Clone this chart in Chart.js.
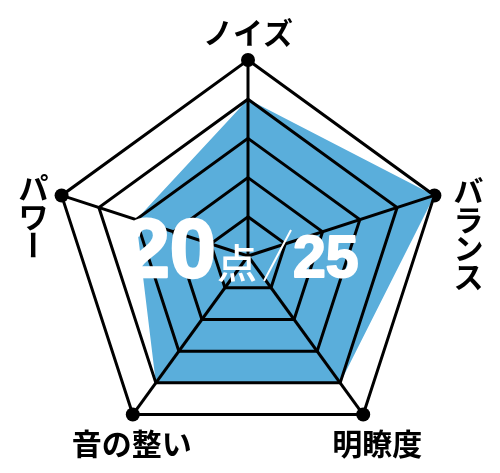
<!DOCTYPE html>
<html lang="ja">
<head>
<meta charset="utf-8">
<script src="https://cdn.jsdelivr.net/npm/chart.js@4.4.1/dist/chart.umd.min.js"></script>
<style>
  html, body { margin: 0; padding: 0; background: #fff; }
  .chart-wrap { position: relative; width: 500px; height: 473px; }
</style>
</head>
<body>
<div class="chart-wrap"><canvas id="radar"></canvas></div>
<script>
// axes clockwise from the top
const labels = ["ノイズ", "バランス", "明瞭度", "音の整い", "パワー"];
const verticalLabels = [false, true, false, false, true];
const scores = [4, 5, 4, 4, 3];
const maxScores = [5, 5, 5, 5, 5];
const scoreTotal = "20";
const scoreUnit = "点";
const scoreMax = "25";

// label centre relative to its outer vertex
const labelOffsets = [[0, -27], [34, 38], [14, 29], [-1, 29], [-28, 21]];
const LABEL_FONT = "bold 30px 'Noto Sans CJK JP', sans-serif";
const CELL = 28.5;
const NUM_FONT = "'Liberation Sans Narrow', 'Liberation Sans', sans-serif";

const axisLabels = {
  id: "axisLabels",
  afterDraw(chart) {
    const r = chart.scales.r;
    const ctx = chart.ctx;
    ctx.save();
    ctx.fillStyle = "#000";
    ctx.font = LABEL_FONT;
    ctx.textAlign = "center";
    ctx.textBaseline = "middle";
    labels.forEach((text, i) => {
      const p = r.getPointPositionForValue(i, r.max);
      const x = p.x + labelOffsets[i][0];
      const y = p.y + labelOffsets[i][1];
      if (!verticalLabels[i]) {
        ctx.fillText(text, x, y);
        return;
      }
      const chars = [...text];
      const top = y - (chars.length - 1) * CELL / 2;
      chars.forEach((ch, j) => {
        const cy = top + j * CELL;
        if (ch === "ー") {
          ctx.save();
          ctx.translate(x, cy);
          ctx.rotate(Math.PI / 2);
          ctx.fillText(ch, 0, 0);
          ctx.restore();
        } else {
          ctx.fillText(ch, x, cy);
        }
      });
    });
    ctx.restore();
  },
};

// big white score in the middle
const centerScore = {
  id: "centerScore",
  afterDraw(chart) {
    const r = chart.scales.r;
    const cx = r.xCenter;
    const cy = r.yCenter;
    const ctx = chart.ctx;
    ctx.save();
    ctx.fillStyle = "#fff";
    ctx.strokeStyle = "#fff";
    ctx.lineJoin = "round";
    ctx.textBaseline = "alphabetic";

    ctx.font = "bold 83px " + NUM_FONT;
    ctx.textAlign = "right";
    ctx.lineWidth = 2.5;
    ctx.fillText(scoreTotal, cx - 32, cy + 21);
    ctx.strokeText(scoreTotal, cx - 32, cy + 21);

    ctx.font = "500 40px 'Noto Sans CJK JP', sans-serif";
    ctx.textAlign = "left";
    ctx.fillText(scoreUnit, cx - 31, cy + 22);

    ctx.lineWidth = 2;
    ctx.beginPath();
    ctx.moveTo(cx + 16, cy + 25);
    ctx.lineTo(cx + 43, cy - 26);
    ctx.stroke();

    ctx.font = "bold 59px " + NUM_FONT;
    ctx.lineWidth = 2;
    ctx.fillText(scoreMax, cx + 45, cy + 21);
    ctx.strokeText(scoreMax, cx + 45, cy + 21);
    ctx.restore();
  },
};

new Chart(document.getElementById("radar"), {
  type: "radar",
  data: {
    labels,
    datasets: [
      {
        label: "score",
        data: scores,
        backgroundColor: "#5aaedb",
        borderWidth: 0,
        pointRadius: 0,
        fill: true,
      },
      {
        label: "max",
        data: maxScores,
        backgroundColor: "transparent",
        borderColor: "transparent",
        borderWidth: 0,
        pointRadius: 7,
        pointBackgroundColor: "#000",
        pointBorderWidth: 0,
        fill: false,
        clip: false,
      },
    ],
  },
  options: {
    responsive: true,
    maintainAspectRatio: false,
    animation: false,
    layout: { padding: { top: 60, bottom: 21, left: 52, right: 56 } },
    plugins: {
      legend: { display: false },
      tooltip: { enabled: false },
    },
    scales: {
      r: {
        min: 0,
        max: 5,
        ticks: { display: false, stepSize: 1 },
        grid: { color: "#000", lineWidth: 3, z: 1 },
        angleLines: { color: "#000", lineWidth: 3 },
        pointLabels: { display: false },
      },
    },
  },
  plugins: [axisLabels, centerScore],
});
</script>
</body>
</html>
